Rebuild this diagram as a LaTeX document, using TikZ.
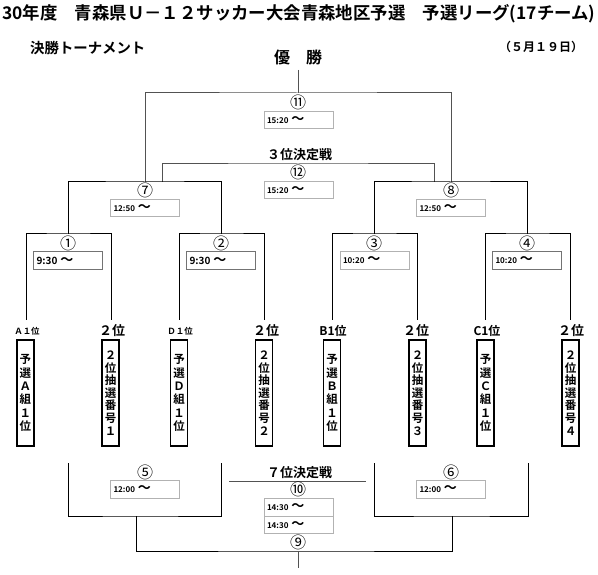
\documentclass[tikz,border=0pt]{standalone}
\usepackage{fontspec}
\setmainfont{Noto Sans CJK JP}[BoldFont={Noto Sans CJK JP Bold}]
\newcommand\wvmark{\hspace{3pt}{\fontsize{13}{8}\selectfont 〜}}
\begin{document}
\begin{tikzpicture}[x=1pt,y=-1pt,
  every node/.style={inner sep=0pt},
  bline/.style={line width=1pt, black},
  gline/.style={line width=1pt, black!68},
  tbox/.style={draw=black!30, line width=0.8pt, minimum width=69pt, minimum height=17.5pt, text width=63pt, inner xsep=3pt, align=left, font=\fontsize{8}{8}\selectfont\bfseries},
  tboxA/.style={tbox, draw=black!55, font=\fontsize{10}{10}\selectfont\bfseries},
  cnum/.style={font=\fontsize{16}{16}\selectfont},
  pbox/.style={draw, line width=1.3pt, minimum width=17pt, minimum height=106pt, align=center},
  pboxsix/.style={pbox, font=\fontsize{11.5}{13.4}\selectfont\bfseries},
  pboxseven/.style={pbox, font=\fontsize{11.5}{12.6}\selectfont\bfseries},
  smalllab/.style={font=\fontsize{8.5}{8.5}\selectfont\bfseries},
  midlab/.style={font=\fontsize{12}{12}\selectfont\bfseries},
  biglab/.style={font=\fontsize{13}{13}\selectfont\bfseries},
  head/.style={font=\fontsize{13}{13}\selectfont\bfseries}
]
\useasboundingbox (0,0) rectangle (598,575);

% headings
\node[anchor=west, font=\fontsize{17.4}{17.4}\selectfont\bfseries] (title) at (2,14) {30年度　青森県Ｕ－１２サッカー大会青森地区予選　予選リーグ(17チーム)};
\node[anchor=west, font=\fontsize{14.4}{14.4}\selectfont\bfseries] (sub) at (30,48) {決勝トーナメント};
\node[font=\fontsize{16}{16}\selectfont\bfseries] (win) at (298,57) {優　勝};
\node[font=\fontsize{12}{12}\selectfont\bfseries] (date) at (541,47) {（５月１９日）};

% coordinates
\coordinate (wtop) at (298,70);
\coordinate (ftop) at (298,93);
\coordinate (s7) at (145,182);
\coordinate (s8) at (451,182);
\coordinate (c12) at (298,164);
\coordinate (t7) at (162,182);
\coordinate (t8) at (434,182);
\coordinate (r1) at (68,234);
\coordinate (r2) at (221.5,234);
\coordinate (r3) at (374.5,234);
\coordinate (r4) at (527.5,234);
\coordinate (p1) at (26,320);
\coordinate (p2) at (111,320);
\coordinate (p3) at (179,320);
\coordinate (p4) at (264,320);
\coordinate (p5) at (332,320);
\coordinate (p6) at (417,320);
\coordinate (p7) at (485,320);
\coordinate (p8) at (570,320);
\coordinate (q1) at (68,463);
\coordinate (q2) at (221,463);
\coordinate (q3) at (374,463);
\coordinate (q4) at (528,463);
\coordinate (b5) at (136,516);
\coordinate (b6) at (452,516);
\coordinate (c9) at (298,551);
\coordinate (bend) at (298,568);
\coordinate (l7a) at (229,481);
\coordinate (l7b) at (366,481);

% upper brackets
\draw[gline] (wtop) -- (ftop);
\draw[gline] (s7) |- (ftop) -| (s8);
\draw[gline] (t7) |- (c12) -| (t8);
\draw[bline] (r1) |- (s7) -| (r2);
\draw[bline] (r3) |- (s8) -| (r4);
\draw[bline] (p1) |- (r1) -| (p2);
\draw[bline] (p3) |- (r2) -| (p4);
\draw[bline] (p5) |- (r3) -| (p6);
\draw[bline] (p7) |- (r4) -| (p8);

% lower brackets
\draw[bline] (q1) |- (b5) -| (q2);
\draw[bline] (q3) |- (b6) -| (q4);
\draw[bline] (b5) |- (c9) -| (b6);
\draw[gline] (c9) -- (bend);
\draw[gline] (l7a) -- (l7b);

% match numbers
\node[cnum] (m11) at (298,102) {⑪};
\node[cnum] (m12) at (298,172) {⑫};
\node[cnum] (m7) at (145,190) {⑦};
\node[cnum] (m8) at (451,190) {⑧};
\node[cnum] (m1) at (68,243) {①};
\node[cnum] (m2) at (221,243) {②};
\node[cnum] (m3) at (374,243) {③};
\node[cnum] (m4) at (527,243) {④};
\node[cnum] (m5) at (145,472) {⑤};
\node[cnum] (m6) at (451,472) {⑥};
\node[cnum] (m10) at (298,489) {⑩};
\node[cnum] (m9) at (298,542) {⑨};

% match titles
\node[head] (third) at (299.5,155) {３位決定戦};
\node[head] (seventh) at (299.5,473) {７位決定戦};

% time boxes
\node[tbox] (k11) at (298.5,120) {15:20\wvmark};
\node[tbox] (k12) at (298.5,190) {15:20\wvmark};
\node[tbox] (k7) at (145,208) {12:50\wvmark};
\node[tbox] (k8) at (451,208) {12:50\wvmark};
\node[tboxA] (k1) at (68,260.5) {9:30\wvmark};
\node[tboxA] (k2) at (221,260.5) {9:30\wvmark};
\node[tbox] (k3) at (374.5,260.5) {10:20\wvmark};
\node[tbox, draw=black!55] (k4) at (527,260.5) {10:20\wvmark};
\node[tbox] (k5) at (145,489.5) {12:00\wvmark};
\node[tbox] (k6) at (451,489.5) {12:00\wvmark};
\node[tbox] (k10a) at (298.5,507.5) {14:30\wvmark};
\node[tbox] (k10b) at (298.5,525) {14:30\wvmark};

% seed labels
\node[smalllab] (la1) at (27,331) {Ａ１位};
\node[biglab] (la2) at (112,331) {２位};
\node[smalllab] (la3) at (180,331) {Ｄ１位};
\node[biglab] (la4) at (266,331) {２位};
\node[midlab] (la5) at (333,331) {B1位};
\node[biglab] (la6) at (416,331) {２位};
\node[midlab] (la7) at (487,331) {C1位};
\node[biglab] (la8) at (571,331) {２位};

% participant boxes
\node[pboxsix] (e1) at (25.5,393) {予\\選\\Ａ\\組\\１\\位};
\node[pboxseven] (e2) at (110.5,393) {２\\位\\抽\\選\\番\\号\\１};
\node[pboxsix] (e3) at (179,393) {予\\選\\Ｄ\\組\\１\\位};
\node[pboxseven] (e4) at (264,393) {２\\位\\抽\\選\\番\\号\\２};
\node[pboxsix] (e5) at (332,393) {予\\選\\Ｂ\\組\\１\\位};
\node[pboxseven] (e6) at (417.5,393) {２\\位\\抽\\選\\番\\号\\３};
\node[pboxsix] (e7) at (485.5,393) {予\\選\\Ｃ\\組\\１\\位};
\node[pboxseven] (e8) at (570.5,393) {２\\位\\抽\\選\\番\\号\\４};
\end{tikzpicture}
\end{document}
